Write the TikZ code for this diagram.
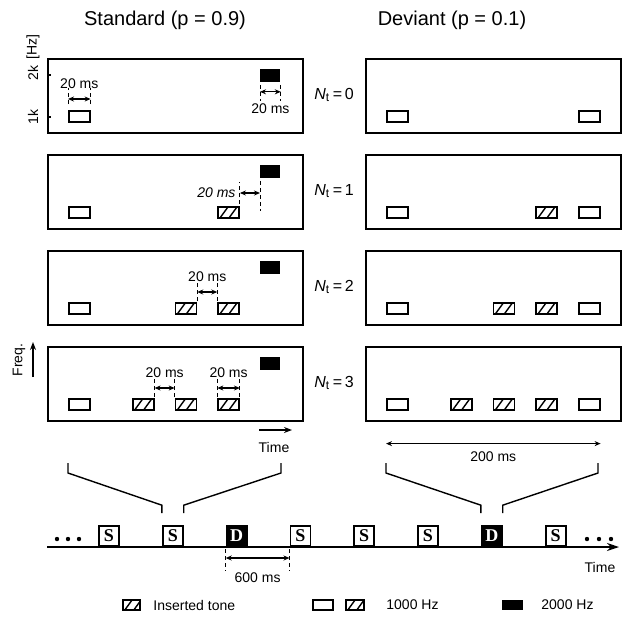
\documentclass[tikz,border=0pt]{standalone}
\usepackage{fontspec}
\setmainfont{Liberation Sans}
\newfontfamily\boxfont{Liberation Serif}
\usepackage{tikz}
\usetikzlibrary{arrows.meta,positioning,calc}

\begin{document}
\begin{tikzpicture}[x=0.5pt,y=-0.5pt,
    panel/.style={draw,line width=0.9pt,anchor=north west,minimum width=127.5pt,minimum height=37pt,inner sep=0pt},
    tone/.style={draw,line width=0.8pt,anchor=north west,minimum width=10.5pt,minimum height=5.5pt,inner sep=0pt},
    hatched/.style={tone,path picture={
        \draw[line width=0.7pt] ([xshift=1pt]path picture bounding box.south west) -- ++(4pt,5.5pt);
        \draw[line width=0.7pt] ([xshift=5.5pt]path picture bounding box.south west) -- ++(4pt,5.5pt);}},
    hightone/.style={fill=black,anchor=north west,minimum width=10pt,minimum height=6.5pt,inner sep=0pt},
    lbl/.style={font=\fontsize{7}{8.4}\selectfont,inner sep=1pt},
    edgemark/.style={dash pattern=on 2pt off 1.5pt,line width=0.5pt},
    dim/.style={{Stealth[length=3pt,width=2.5pt]}-{Stealth[length=3pt,width=2.5pt]},line width=0.6pt},
    stim/.style={draw,line width=0.9pt,fill=white,minimum size=10pt,inner sep=0pt,anchor=south,font=\boxfont\bfseries\fontsize{9}{9}\selectfont},
    dev/.style={stim,fill=black,text=white},
    bracket/.style={line width=0.7pt}]
  \useasboundingbox (0,0) rectangle (628,618);

  \node (stdtitle) at (165,20) {Standard (p = 0.9)};
  \node (devtitle) at (452,20) {Deviant (p = 0.1)};

  \foreach \r in {1,...,4} {
    \pgfmathtruncatemacro\n{\r-1}
    \node[panel] (L\r) at (47,{58+96*(\r-1)}) {};
    \node[panel] (R\r) at (365,{58+96*(\r-1)}) {};
    \node[tone] (L\r-w) at (68,{110+96*(\r-1)}) {};
    \node[hightone] (L\r-b) at (260,{69+96*(\r-1)}) {};
    \node[tone] (R\r-w) at (386,{110+96*(\r-1)}) {};
    \node[tone] (R\r-e) at (578,{110+96*(\r-1)}) {};
    \node[font=\fontsize{8}{9.6}\selectfont] (N\r) at (334,{95+96*(\r-1)}) {\textit{N}\textsubscript{t}\,=\,\n};
  }
  \foreach \r/\ks in {2/7, 3/{5,7}, 4/{3,5,7}} {
    \foreach \k in \ks {
      \node[hatched] (L\r-h\k) at ({68+21.33*\k},{110+96*(\r-1)}) {};
      \node[hatched] (R\r-h\k) at ({386+21.33*\k},{110+96*(\r-1)}) {};
    }
  }

  \node[lbl,rotate=90] (hz) at (33,47) {[Hz]};
  \node[lbl,rotate=90] (khigh) at (33,73) {2k};
  \node[lbl,rotate=90] (klow) at (33,117) {1k};
  \draw[line width=0.6pt] ([yshift=-8.5pt]L1.north west) -- ++(2pt,0);
  \draw[line width=0.6pt] ([yshift=-29.5pt]L1.north west) -- ++(2pt,0);

  \node[lbl] (d1) at ([yshift=13pt]L1-w.north) {20 ms};
  \draw[edgemark] ([yshift=3pt]L1-w.north west) -- ([yshift=11pt]L1-w.north west);
  \draw[edgemark] ([yshift=3pt]L1-w.north east) -- ([yshift=11pt]L1-w.north east);
  \draw[dim] ([yshift=5.5pt]L1-w.north west) -- ([yshift=5.5pt]L1-w.north east);

  \node[lbl] (d2) at ([yshift=-13pt]L1-b.south) {20 ms};
  \draw[edgemark] ([yshift=-1pt]L1-b.south west) -- ([yshift=-9pt]L1-b.south west);
  \draw[edgemark] ([yshift=-1pt]L1-b.south east) -- ([yshift=-9pt]L1-b.south east);
  \draw[dim] ([yshift=-4.5pt]L1-b.south west) -- ([yshift=-4.5pt]L1-b.south east);

  \node[lbl,font=\fontsize{7}{8.4}\selectfont\itshape,anchor=east] (d3) at ([xshift=-1pt,yshift=6.5pt]L2-h7.north east) {20 ms};
  \draw[edgemark] ([yshift=1pt]L2-h7.north east) -- ([yshift=12pt]L2-h7.north east);
  \draw[edgemark] ([yshift=-1pt]L2-b.south west) -- ([yshift=-16pt]L2-b.south west);
  \draw[dim] ([yshift=6.5pt]L2-h7.north east) -- ([yshift=6.5pt]L2-h7.north east -| L2-b.west);

  \node[lbl] (d4) at ([yshift=12.5pt]$(L3-h5.north east)!0.5!(L3-h7.north west)$) {20 ms};
  \draw[edgemark] ([yshift=0.5pt]L3-h5.north east) -- ([yshift=10pt]L3-h5.north east);
  \draw[edgemark] ([yshift=0.5pt]L3-h7.north west) -- ([yshift=10pt]L3-h7.north west);
  \draw[dim] ([yshift=5pt]L3-h5.north east) -- ([yshift=5pt]L3-h7.north west);

  \node[lbl] (d5) at ([yshift=12.5pt]$(L4-h3.north east)!0.5!(L4-h5.north west)$) {20 ms};
  \draw[edgemark] ([yshift=0.5pt]L4-h3.north east) -- ([yshift=10pt]L4-h3.north east);
  \draw[edgemark] ([yshift=0.5pt]L4-h5.north west) -- ([yshift=10pt]L4-h5.north west);
  \draw[dim] ([yshift=5pt]L4-h3.north east) -- ([yshift=5pt]L4-h5.north west);

  \node[lbl] (d6) at ([yshift=12.5pt]L4-h7.north) {20 ms};
  \draw[edgemark] ([yshift=0.5pt]L4-h7.north west) -- ([yshift=10pt]L4-h7.north west);
  \draw[edgemark] ([yshift=0.5pt]L4-h7.north east) -- ([yshift=10pt]L4-h7.north east);
  \draw[dim] ([yshift=5pt]L4-h7.north west) -- ([yshift=5pt]L4-h7.north east);

  \node[lbl,rotate=90] (freq) at (19,360) {Freq.};
  \coordinate (fq0) at (33,377);
  \coordinate (fq1) at (33,342);
  \draw[line width=0.8pt,-{Stealth[length=4pt,width=3pt]}] (fq0) -- (fq1);
  \coordinate (tm0) at (259,430);
  \coordinate (tm1) at (292,430);
  \draw[line width=0.8pt,-{Stealth[length=4pt,width=3pt]}] (tm0) -- (tm1);
  \node[lbl] (tmlbl) at (274,447) {Time};

  \draw[dim] ([yshift=-16.5pt]R4-w.south west) -- ([yshift=-16.5pt]R4-e.south east) node[lbl,midway,below=3pt] (span) {200 ms};

  \coordinate (tl0) at (47,547);
  \coordinate (tl1) at (619,547);
  \draw[line width=0.9pt,-{Stealth[length=6pt,width=4pt]}] (tl0) -- (tl1);
  \foreach \i/\t/\s in {0/S/stim,1/S/stim,2/D/dev,3/S/stim,4/S/stim,5/S/stim,6/D/dev,7/S/stim}
    \node[\s] (b\i) at ({109+63.8*\i},547) {\t};
  \foreach \x in {57,68,79} \fill (\x,539) circle (1.1pt);
  \foreach \x in {587,599,611} \fill (\x,539) circle (1.1pt);
  \node[lbl] (tlbl) at (600,567) {Time};

  \draw[edgemark] ([yshift=-1pt]b2.south west) -- ([yshift=-12pt]b2.south west);
  \draw[edgemark] ([yshift=-1pt]b3.south west) -- ([yshift=-12pt]b3.south west);
  \draw[dim] ([yshift=-5.5pt]b2.south west) -- ([yshift=-5.5pt]b3.south west);
  \node[lbl] (gap) at ([yshift=-15.5pt]$(b2.south west)!0.5!(b3.south west)$) {600 ms};

  \coordinate (brA) at (68,463);
  \coordinate (brB) at (281,463);
  \coordinate (brC) at (386,463);
  \coordinate (brD) at (598,463);
  \draw[bracket] (brA) -- ++(0,10) -- ([yshift=10pt]b1.north west) -- ([yshift=6pt]b1.north west);
  \draw[bracket] (brB) -- ++(0,10) -- ([yshift=10pt]b1.north east) -- ([yshift=6pt]b1.north east);
  \draw[bracket] (brC) -- ++(0,10) -- ([yshift=10pt]b6.north west) -- ([yshift=6pt]b6.north west);
  \draw[bracket] (brD) -- ++(0,10) -- ([yshift=10pt]b6.north east) -- ([yshift=6pt]b6.north east);

  \node[hatched,anchor=west,minimum width=8.5pt,minimum height=5pt] (lg1) at (122,605) {};
  \node[lbl,anchor=west] (lg1t) at (151,605) {Inserted tone};
  \node[tone,anchor=west,minimum width=10pt,minimum height=5pt] (lg2) at (312,605) {};
  \node[hatched,anchor=west,minimum width=9pt,minimum height=5pt] (lg3) at (345,605) {};
  \node[lbl,anchor=west] (lg3t) at (384,605) {1000 Hz};
  \node[hightone,anchor=west,minimum width=10.5pt,minimum height=5pt] (lg4) at (502,605) {};
  \node[lbl,anchor=west] (lg4t) at (539,605) {2000 Hz};
\end{tikzpicture}
\end{document}
